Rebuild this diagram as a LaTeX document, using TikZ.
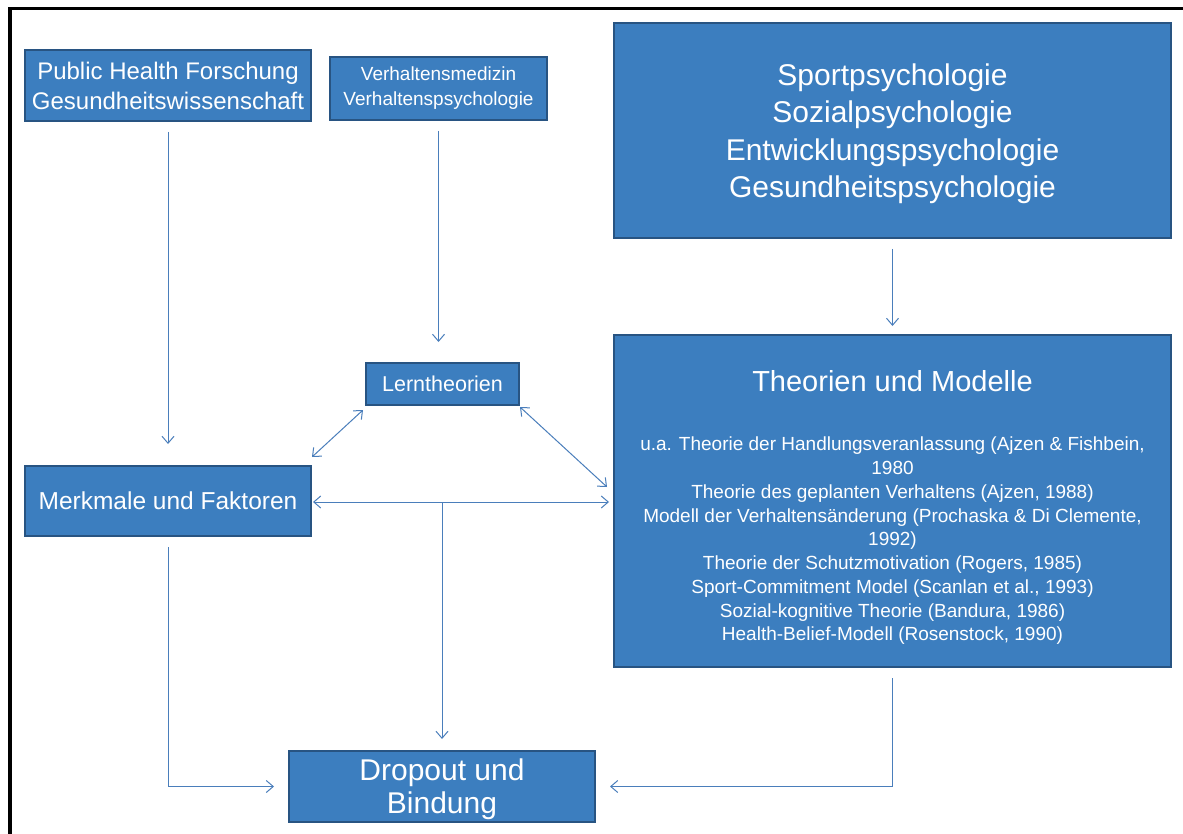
\documentclass[tikz,border=0pt]{standalone}
\usepackage{fontspec}
\setmainfont{Liberation Sans}
\usetikzlibrary{arrows.meta}
\definecolor{boxfill}{RGB}{60,126,191}
\definecolor{boxline}{RGB}{40,84,130}
\definecolor{linkcol}{RGB}{74,126,187}
\newcommand{\fs}[2]{\fontsize{#1}{#2}\selectfont}
\tikzset{
  box/.style={draw=boxline, fill=boxfill, line width=2pt, text=white,
    align=center, inner sep=0pt},
  txt/.style={text=white, align=center, inner sep=0pt},
  link/.style={draw=linkcol, line width=1pt},
  tip/.style={-{Straight Barb[length=7pt,width=12pt]}},
  tips/.style={{Straight Barb[length=7pt,width=12pt]}-{Straight Barb[length=7pt,width=12pt]}}
}
\begin{document}
\begin{tikzpicture}[x=1pt,y=-1pt]
\useasboundingbox (0,0) rectangle (1183,834);
\fill[white] (0,0) rectangle (1183,834);
% frame along the top and left
\draw[line width=3.3pt, line join=miter] (10,840) -- (10,8.3) -- (1190,8.3);

% boxes
\node[box, minimum width=286pt, minimum height=71pt, font=\fs{24}{30}] (ph) at (168,85.5)
  {\rule{0pt}{19pt}Public Health Forschung\\Gesundheitswissenschaft};
\node[box, minimum width=217pt, minimum height=63pt, font=\fs{19}{25}] (vm) at (438.5,88.5)
  {Verhaltensmedizin\\Verhaltenspsychologie};
\node[box, minimum width=557pt, minimum height=215pt, font=\fs{30}{37.5}] (sport) at (892.5,130.5)
  {\rule{0pt}{28pt}Sportpsychologie\\Sozialpsychologie\\Entwicklungspsychologie\\Gesundheitspsychologie};
\node[box, minimum width=153pt, minimum height=42pt, font=\fs{21.5}{26}] (lern) at (442.5,384)
  {Lerntheorien};
\node[box, minimum width=557pt, minimum height=332pt] (theo) at (892.5,501) {};
\node[txt, font=\fs{29}{34}] (theotitle) at (892.5,381) {Theorien und Modelle};
\node[txt, font=\fs{19}{23.75}] (theolist) at (892.5,541) {%
  u.a. Theorie der Handlungsveranlassung (Ajzen \& Fishbein,\\
  1980\\
  Theorie des geplanten Verhaltens (Ajzen, 1988)\\
  Modell der Verhaltensänderung (Prochaska \& Di Clemente,\\
  1992)\\
  Theorie der Schutzmotivation (Rogers, 1985)\\
  Sport-Commitment Model (Scanlan et al., 1993)\\
  Sozial-kognitive Theorie (Bandura, 1986)\\
  Health-Belief-Modell (Rosenstock, 1990)};
\node[box, minimum width=286pt, minimum height=70pt, font=\fs{24.5}{30}] (merk) at (168,501)
  {Merkmale und Faktoren};
\node[box, minimum width=306pt, minimum height=71pt, font=\fs{30}{33}] (drop) at (442,786.5)
  {\rule{0pt}{28pt}Dropout und\\Bindung};

% connectors
\draw[link, tip, shorten <=10pt, shorten >=21pt] (ph.south) -- (merk.north);
\draw[link, tip, shorten <=10pt, shorten >=20pt] (vm.south) -- (vm.south |- lern.north);
\draw[link, tip, shorten <=10pt, shorten >=8pt] (sport.south) -- (theo.north);
\draw[link, tips] ([shift={(-2,4)}]lern.south west) -- ([shift={(0,-8)}]merk.north east);
\draw[link, tips] ([shift={(0,1)}]lern.south east) -- ([shift={(-6,-14)}]theo.west);
\draw[link, tips, shorten <=1pt, shorten >=4pt] ([yshift=-1pt]merk.east) -- ([yshift=-1pt]theo.west);
\coordinate (jn) at (drop.north |- merk.east);
\draw[link, tip, shorten >=11pt] ([yshift=-1pt]jn) -- (drop.north);
\draw[link, tip, shorten <=10pt, shorten >=14pt] (merk.south) |- (drop.west);
\draw[link, tip, shorten <=10pt, shorten >=14pt] (theo.south) |- (drop.east);
\end{tikzpicture}
\end{document}
